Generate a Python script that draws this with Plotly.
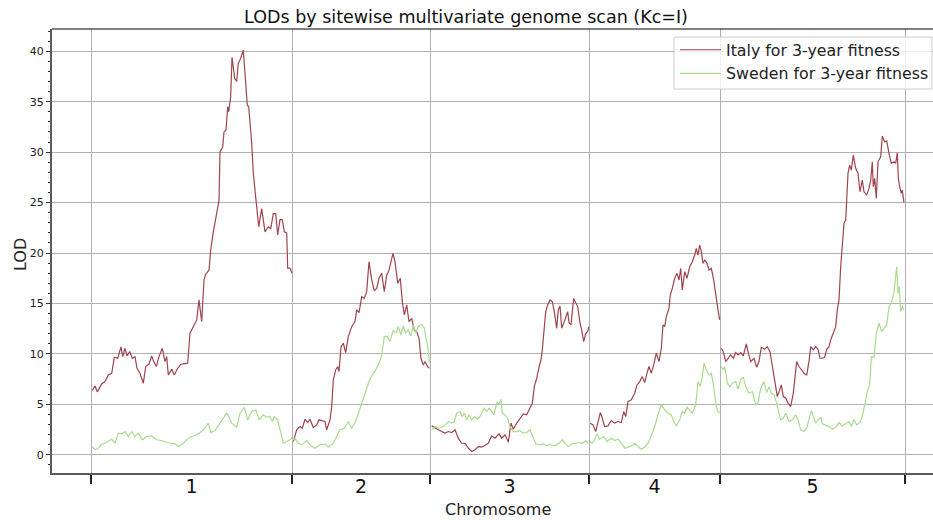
import plotly.graph_objects as go

# Chromosome lengths (cM) and names
chrom_names = ["1", "2", "3", "4", "5"]
chrom_lengths = [201, 138, 159, 131, 185]

# ---- Italy for 3-year fitness: positions (cM within chromosome) and LOD ----
italy_pos_1 = [1.3, 4, 6.3, 10.7, 14, 17.3, 20.7, 23.3, 26.7, 30, 31.7, 34, 36, 38.7, 41.3, 44, 46, 49, 52.3, 54.7,
               58, 60.7, 62.7, 65.3, 68, 71.3, 74, 75.7, 77.3, 80.7, 83.3, 86.7, 90, 94, 96.7, 99, 102.3, 105.7, 108,
               110.7, 113, 114.7, 118, 119.7, 122.3, 125.7, 128, 129, 131.7, 133, 135, 136.7, 137.7, 139.7, 141,
               143.7, 145.7, 147.3, 149.7, 152.3, 154, 156.3, 157.7, 160.7, 162.3, 165, 167.7, 170.7, 174, 177.3,
               179.7, 182.3, 184.7, 186.7, 189, 191.3, 193.3, 195.7, 196.7, 199, 201]
italy_lod_1 = [6.37, 6.83, 6.24, 7.03, 7.26, 7.92, 8.08, 9.67, 9.57, 10.7, 9.73, 10.56, 9.8, 10.23, 9.57, 9.73, 8.58,
               8.08, 7.1, 8.75, 9.0, 9.8, 9.24, 8.75, 9.73, 10.56, 9.24, 9.73, 7.92, 8.48, 7.92, 8.58, 8.98, 9.08,
               9.08, 12.05, 12.7, 13.37, 15.35, 13.2, 17.3, 17.9, 18.3, 20.3, 22.1, 24.1, 25.2, 30.0, 30.5, 32.0,
               32.2, 34.5, 34.0, 35.5, 39.4, 37.3, 37.0, 38.8, 39.3, 40.1, 38.1, 34.65, 34.5, 30.9, 27.9, 25.2, 22.6,
               24.4, 22.1, 22.6, 22.4, 23.9, 23.9, 21.8, 23.3, 23.3, 22.1, 22.0, 18.5, 18.5, 18.0]

italy_pos_2 = [1.3, 4.7, 8, 10.3, 13, 15.7, 18, 21.3, 24.7, 27, 30.3, 33, 34.7, 38, 39.7, 41.3, 43.7, 45.7, 47, 49,
               51.3, 53.7, 56.3, 59.7, 63, 64.7, 67, 69.7, 72.3, 74.7, 77, 79.7, 82.3, 84.7, 87, 89.7, 92.3, 94.7,
               97, 99, 101, 103, 105.7, 108.3, 110.3, 112.3, 114.7, 117, 119.7, 122.3, 124.7, 127, 129, 131.3, 133,
               135.7, 137.3]
italy_lod_2 = [1.32, 2.48, 2.8, 2.64, 3.53, 3.2, 3.53, 2.71, 2.97, 3.47, 3.37, 3.3, 2.48, 3.47, 4.79, 7.43, 8.42,
               8.75, 8.25, 10.72, 11.06, 10.13, 11.71, 12.7, 13.2, 14.36, 14.09, 15.67, 15.5, 16.17, 19.14, 17.33,
               16.27, 16.5, 17.5, 17.99, 16.17, 17.82, 18.3, 19.3, 19.97, 19.14, 17.0, 17.5, 15.18, 13.86, 14.85,
               13.2, 13.53, 12.38, 12.21, 11.55, 9.57, 8.91, 9.24, 8.75, 8.58]

italy_pos_3 = [1.7, 5, 8.3, 11.7, 15, 18.3, 21.7, 25, 28.3, 31.7, 35, 38.3, 41.7, 45, 48.3, 51.7, 55, 58.3, 61.7, 65,
               69, 71.7, 75, 78.3, 81, 83.3, 86.7, 90, 93.3, 96.7, 100, 102.3, 104.3, 106.7, 109, 111, 112.3, 114.3,
               115.7, 117.7, 120, 122.3, 124.3, 126.7, 128.3, 130, 131.7, 134.3, 136, 137.7, 139, 141, 142.3, 143.7,
               145.7, 147.7, 150, 151.7, 153.7, 155.7, 157.7, 159]
italy_lod_3 = [2.87, 2.64, 2.48, 2.31, 2.15, 2.31, 2.21, 2.48, 1.65, 1.15, 1.15, 0.66, 0.33, 0.5, 0.82, 0.76, 0.99,
               1.15, 1.88, 1.65, 2.08, 1.65, 1.98, 1.26, 3.14, 2.54, 3.14, 3.63, 4.06, 3.96, 4.62, 5.12, 6.76, 7.59,
               8.68, 9.4, 10.4, 12.7, 14.19, 14.85, 15.35, 15.18, 14.19, 12.54, 14.36, 14.75, 12.54, 13.2, 13.7,
               14.19, 13.1, 12.87, 14.19, 15.5, 15.08, 14.69, 13.04, 12.38, 11.22, 12.05, 12.21, 12.7]

italy_pos_4 = [1.3, 4, 6.7, 9, 11.3, 13.3, 15.7, 19, 22.3, 25.7, 29, 32.3, 34.7, 36.7, 39, 42.3, 45.7, 48, 50.7, 53.3,
               55.7, 58, 60, 62.3, 64.7, 67.3, 70, 72.3, 74, 75.7, 77.3, 80, 81.3, 83.3, 85.7, 88, 90, 91.7, 93.3,
               95.7, 98, 100.7, 103.3, 105.7, 107.3, 109, 110.7, 112.3, 114, 115.7, 118, 120, 122.3, 124.7, 127.3,
               129, 130.7]
italy_lod_4 = [3.14, 2.97, 2.31, 3.2, 4.19, 3.63, 2.8, 2.87, 3.4, 3.14, 3.3, 3.2, 4.29, 3.79, 5.28, 5.45, 6.11, 6.93,
               7.26, 7.75, 7.16, 8.09, 8.75, 8.09, 8.91, 10.07, 9.24, 10.56, 12.87, 12.7, 13.7, 14.52, 15.84, 16.5,
               17.5, 17.99, 17.33, 18.49, 16.34, 18.15, 17.5, 18.64, 19.14, 19.8, 20.47, 19.8, 20.79, 20.13, 18.98,
               19.3, 18.98, 18.32, 18.48, 17.33, 15.18, 14.36, 13.37]

italy_pos_5 = [1.3, 3.3, 5.7, 8, 10.7, 13.3, 15.7, 18, 20.7, 23.3, 26.3, 28.3, 30.7, 34, 36.7, 39, 41.3, 44.7, 47.3,
               50, 52.3, 54.7, 57.3, 59.7, 61.3, 63.3, 65.7, 68, 70.7, 73.3, 75, 76.7, 79, 81.3, 84, 86.7, 89, 90.7,
               93.3, 95.7, 98, 100, 102.3, 104.7, 106.7, 109, 110.7, 113.3, 115.7, 117.3, 119, 120.7, 122.3, 124,
               125.7, 126.7, 128, 129.7, 131.3, 133.3, 135.7, 138, 140, 142.3, 144, 146.7, 149, 150.7, 152.3, 153.3,
               154.7, 156.3, 158, 160.7, 162.3, 164.7, 166.7, 169, 171.3, 174, 175.7, 177.3, 178.3, 180, 181.3,
               182.3, 184]
italy_lod_5 = [10.56, 10.23, 9.24, 9.57, 9.9, 9.57, 10.13, 9.9, 10.13, 9.8, 10.99, 10.07, 9.24, 9.57, 8.68, 9.24,
               10.66, 10.46, 10.72, 10.23, 8.75, 7.1, 5.77, 6.44, 6.93, 5.77, 5.61, 5.12, 4.79, 6.11, 7.75, 9.24,
               8.75, 8.42, 8.09, 7.92, 9.24, 10.72, 10.4, 10.72, 10.46, 9.57, 9.57, 9.67, 10.46, 10.72, 11.39, 12.05,
               12.7, 14.36, 15.35, 18.64, 20.62, 22.94, 23.27, 25.57, 27.89, 28.71, 28.22, 29.7, 28.39, 27.89, 26.07,
               27.23, 26.07, 25.74, 26.4, 27.23, 29.04, 26.56, 27.4, 25.41, 29.04, 29.53, 31.58, 31.02, 31.12, 29.87,
               28.88, 29.04, 28.88, 29.93, 27.4, 26.4, 25.91, 26.24, 24.98]

# ---- Sweden for 3-year fitness ----
sweden_pos_1 = [1.3, 4, 7.3, 10.7, 14, 17.3, 20.7, 24, 27.3, 30.7, 34, 37.3, 40.7, 44, 47.3, 51.3, 55.7, 60.7, 65.7,
                70.7, 75.7, 80.7, 84, 87.3, 92.3, 97.3, 100.7, 105.7, 110.7, 114, 117.3, 120, 124, 129, 132.3, 135.7,
                138, 140.7, 145.7, 149, 153.3, 156.7, 160.7, 164.7, 168.3, 172.3, 175.7, 179, 181.3, 183.3, 186.7,
                189, 192.3, 195.7, 199, 201]
sweden_lod_1 = [0.82, 0.5, 0.66, 1.05, 1.15, 1.39, 1.55, 1.15, 2.15, 2.08, 2.31, 1.82, 2.31, 1.82, 2.15, 1.49, 1.82,
                1.88, 1.49, 1.42, 1.22, 1.15, 1.09, 0.82, 1.15, 1.65, 1.82, 1.98, 2.31, 2.64, 3.14, 2.21, 2.41, 3.14,
                3.63, 4.13, 3.73, 3.14, 2.74, 4.13, 4.69, 3.47, 4.29, 4.46, 3.47, 3.96, 3.73, 3.79, 3.30, 3.79, 3.47,
                2.48, 1.15, 1.32, 1.49, 1.75]

sweden_pos_2 = [0.3, 3, 6.3, 9.7, 14.7, 19, 23, 28, 33, 36.3, 41.3, 44.7, 48, 52.3, 56.3, 59.7, 63.7, 67, 70.3, 73.7,
                77, 80.3, 83.7, 87, 89.7, 92.3, 94.7, 98, 101.3, 104, 106.3, 109, 111.3, 113.7, 116.3, 119, 121.3,
                123.7, 126.3, 129.7, 132.3, 134.3, 136.3, 137.3]
sweden_lod_2 = [1.42, 1.65, 1.15, 0.99, 1.42, 0.89, 0.66, 0.99, 1.09, 0.76, 1.15, 1.82, 2.48, 2.64, 3.3, 2.64, 3.3,
                4.29, 5.28, 6.27, 7.26, 7.92, 8.42, 9.08, 9.9, 11.71, 11.78, 11.22, 12.38, 12.05, 12.7, 11.88, 12.77,
                12.05, 12.38, 11.78, 12.87, 12.05, 12.7, 12.94, 12.54, 11.39, 10.4, 9.08]

sweden_pos_3 = [1.7, 5, 8.3, 13.3, 16.7, 19, 21.7, 24.3, 26.7, 30, 32.3, 34.3, 36.7, 39, 41.7, 44.3, 47.7, 51, 54.3,
                56.7, 59, 61.7, 64, 66.7, 69, 71, 72.3, 75, 77.7, 80, 83.3, 86.7, 90, 93.3, 96.7, 100, 102.3, 105.7,
                110, 113.3, 116.7, 120, 123.3, 126.7, 130, 132.3, 135, 138.3, 141.7, 145, 149, 152.3, 155.7, 158.3]
sweden_lod_3 = [2.48, 2.8, 2.64, 2.8, 3.14, 3.3, 3.14, 3.3, 4.13, 4.29, 3.79, 4.13, 3.47, 3.96, 3.47, 3.79, 3.53,
                3.96, 4.62, 4.29, 4.62, 4.29, 3.96, 5.18, 5.05, 5.51, 4.13, 3.96, 3.63, 2.8, 2.31, 2.31, 2.41, 2.15,
                2.21, 2.48, 1.98, 1.09, 0.99, 1.09, 0.89, 1.05, 0.89, 0.99, 1.22, 1.49, 1.15, 0.82, 1.09, 1.15, 1.22,
                1.15, 1.42, 1.09]

sweden_pos_4 = [0.7, 3.3, 5.7, 8, 10.7, 14.7, 18, 22.3, 25.7, 29, 32.3, 35.7, 39, 42.3, 45.7, 49, 52.3, 55.7, 59,
                62.3, 65.7, 69, 72.3, 75.7, 79, 82.3, 84.7, 87.3, 90.7, 93.3, 95.7, 98, 100.7, 103.3, 106.7, 109,
                111.3, 113.3, 115, 117.3, 120, 122.3, 124.7, 127.3, 129, 130.7]
sweden_lod_4 = [1.32, 1.15, 1.49, 2.08, 1.55, 1.82, 1.32, 1.65, 1.42, 1.55, 1.15, 0.66, 0.76, 0.89, 1.15, 0.82, 0.56,
                0.76, 1.15, 1.88, 2.8, 3.96, 4.95, 4.46, 4.13, 3.96, 3.3, 2.87, 3.47, 4.29, 4.13, 4.72, 4.46, 4.13,
                4.95, 7.26, 6.76, 7.75, 9.08, 8.42, 7.92, 8.09, 6.76, 4.79, 4.29, 4.13]

sweden_pos_5 = [1.3, 3.3, 4.7, 7.3, 10, 12.3, 15.7, 18, 20.7, 23.3, 25.7, 29, 32.3, 35.7, 38, 40.7, 44, 46.7, 49,
                51.3, 54, 56.7, 59, 60.7, 63.3, 65.7, 69, 72.3, 75.7, 78, 80.7, 84, 86.7, 89, 91.3, 93.3, 95.7, 98,
                100.7, 102.3, 105.7, 109, 112.3, 115.7, 119, 122.3, 125.7, 129, 131.3, 134, 136.7, 140, 142.3, 144.7,
                147.3, 149.7, 151.3, 154, 156.3, 159, 161.7, 164, 166.7, 169, 171.3, 174, 176.7, 178, 179.3, 180.7,
                182.3, 184]
sweden_lod_5 = [8.75, 8.42, 8.75, 7.1, 6.76, 7.1, 7.26, 6.5, 7.43, 7.69, 6.76, 6.11, 6.27, 4.95, 5.12, 6.6, 7.26,
                6.17, 6.76, 6.11, 5.94, 5.12, 4.13, 3.47, 3.63, 4.13, 3.3, 3.47, 3.96, 3.47, 2.48, 2.31, 2.64, 3.63,
                4.39, 3.79, 3.14, 3.47, 3.73, 3.07, 2.97, 2.8, 2.54, 2.74, 3.2, 2.87, 3.07, 3.3, 2.8, 3.47, 2.97, 3.2,
                3.79, 5.12, 6.27, 6.93, 9.73, 9.67, 12.05, 13.04, 12.21, 12.54, 12.87, 14.69, 15.02, 16.17, 18.64,
                16.01, 16.67, 14.19, 14.69, 14.36]

italy_pos = [italy_pos_1, italy_pos_2, italy_pos_3, italy_pos_4, italy_pos_5]
italy_lod = [italy_lod_1, italy_lod_2, italy_lod_3, italy_lod_4, italy_lod_5]
sweden_pos = [sweden_pos_1, sweden_pos_2, sweden_pos_3, sweden_pos_4, sweden_pos_5]
sweden_lod = [sweden_lod_1, sweden_lod_2, sweden_lod_3, sweden_lod_4, sweden_lod_5]

# cumulative genome coordinates
offsets = [0]
for L in chrom_lengths:
    offsets.append(offsets[-1] + L)
centers = [(offsets[i] + offsets[i + 1]) / 2 for i in range(len(chrom_lengths))]


def genome_xy(pos_lists, lod_lists):
    xs, ys = [], []
    for i, (p, v) in enumerate(zip(pos_lists, lod_lists)):
        xs += [offsets[i] + q for q in p] + [None]
        ys += list(v) + [None]
    return xs, ys


FONT = "DejaVu Sans"
fig = go.Figure()

x_it, y_it = genome_xy(italy_pos, italy_lod)
x_sw, y_sw = genome_xy(sweden_pos, sweden_lod)
fig.add_trace(go.Scatter(x=x_it, y=y_it, mode="lines", name="Italy for 3-year fitness",
                         line=dict(color="#a0434d", width=1.2), connectgaps=False))
fig.add_trace(go.Scatter(x=x_sw, y=y_sw, mode="lines", name="Sweden for 3-year fitness",
                         line=dict(color="#a8dc8e", width=1.2), connectgaps=False))
# empty trace so the chromosome-label axis is drawn
fig.add_trace(go.Scatter(x=centers, y=[None] * len(centers), xaxis="x2", mode="lines",
                         showlegend=False, hoverinfo="skip"))

x_range = [-39, 842]
y_range = [-1.8, 42.2]

# legend frame position in pixels (left, top, right, bottom)
frame_px = (674, 37, 932, 89)
W, H = 933, 520
ml, mr, mt, mb = 52, 0, 29, 47
pw, ph = W - ml - mr, H - mt - mb


def px_to_paper(x, y):
    return (x - ml) / pw, (H - mb - y) / ph


fx0, fy1 = px_to_paper(frame_px[0], frame_px[1])
fx1, fy0 = px_to_paper(frame_px[2], frame_px[3])

fig.update_layout(
    width=W, height=H,
    margin=dict(l=ml, r=mr, t=mt, b=mb, autoexpand=False),
    paper_bgcolor="white", plot_bgcolor="white",
    font=dict(family=FONT, color="#222222"),
    showlegend=True,
    title=dict(text="LODs by sitewise multivariate genome scan (Kc=I)",
               x=0.4995, xref="container", xanchor="center",
               y=1 - 17 / 520, yref="container", yanchor="middle",
               font=dict(family=FONT, size=17.5, color="#111111")),
    xaxis=dict(range=x_range, tickmode="array", tickvals=offsets, ticktext=[""] * len(offsets),
               ticks="outside", ticklen=9, tickwidth=1.5, tickcolor="#222222",
               showgrid=True, gridcolor="#b0b0b0", gridwidth=1,
               showline=True, linecolor="#5a5a5a", linewidth=2, zeroline=False),
    xaxis2=dict(range=x_range, overlaying="x", anchor="y", side="bottom",
                tickmode="array", tickvals=centers, ticktext=chrom_names,
                ticks="", ticklen=0,
                tickfont=dict(family=FONT, size=19, color="#111111"),
                showgrid=False, showline=False, zeroline=False),
    yaxis=dict(range=y_range, tickmode="array", tickvals=list(range(0, 41, 5)),
               ticks="outside", ticklen=4, tickwidth=1, tickcolor="#333333",
               tickfont=dict(family=FONT, size=11, color="#222222"),
               minor=dict(tickmode="linear", tick0=0, dtick=1, ticks="outside", ticklen=2,
                          tickcolor="#333333", showgrid=False),
               showgrid=True, gridcolor="#b0b0b0", gridwidth=1,
               showline=True, linecolor="#5a5a5a", linewidth=2, zeroline=False),
    legend=dict(x=(675 - ml) / pw, xanchor="left", y=(H - mb - 33) / ph, yanchor="top",
                bgcolor="rgba(0,0,0,0)", borderwidth=0, itemwidth=41,
                font=dict(family=FONT, size=15.8, color="#222222")),
    shapes=[
        dict(type="line", xref="paper", yref="paper", x0=0, x1=1, y0=1, y1=1,
             line=dict(color="#000000", width=1)),
        dict(type="rect", xref="paper", yref="paper", x0=fx0, x1=fx1, y0=fy0, y1=fy1,
             fillcolor="rgba(255,255,255,0.8)", line=dict(color="#cccccc", width=1), layer="above"),
    ],
    annotations=[
        dict(text="Chromosome", xref="paper", yref="paper", x=(498 - ml) / pw, y=-(509 - 473) / ph,
             xanchor="center", yanchor="middle", showarrow=False,
             font=dict(family=FONT, size=16, color="#222222")),
        dict(text="LOD", xref="paper", yref="paper", x=-(ml - 20) / pw, y=(473 - 255) / ph,
             xanchor="center", yanchor="middle", textangle=-90, showarrow=False,
             font=dict(family=FONT, size=16, color="#222222")),
    ],
)

fig.write_html("out.html")
